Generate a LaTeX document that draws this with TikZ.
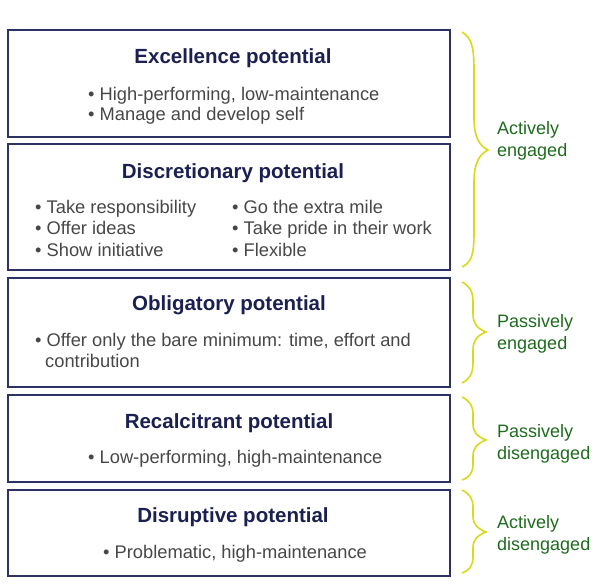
\documentclass[tikz,border=0pt]{standalone}
\usepackage{fontspec}
\setmainfont{Liberation Sans}
\begin{document}
\begin{tikzpicture}[x=1pt,y=-1pt,
  levelbox/.style={draw=boxnavy,line width=1.4pt},
  titletext/.style={font=\fontsize{20.5}{24}\selectfont\bfseries,text=titlenavy,anchor=base},
  bullettext/.style={font=\fontsize{18.3}{22}\selectfont,text=textgray,anchor=base west,inner sep=0pt},
  bracepath/.style={draw=braceyellow,line width=1.6pt},
  labeltext/.style={font=\fontsize{18}{22}\selectfont,text=labelgreen,anchor=west,align=left,inner sep=0pt}]
\definecolor{boxnavy}{HTML}{2E3262}
\definecolor{titlenavy}{HTML}{1B2050}
\definecolor{textgray}{HTML}{474747}
\definecolor{braceyellow}{HTML}{D9D91A}
\definecolor{labelgreen}{HTML}{1E6B1E}
\useasboundingbox (0,0) rectangle (600,586);
% boxes
\draw[levelbox] (8,30) rectangle (450,137);
\draw[levelbox] (8,144) rectangle (450,270);
\draw[levelbox] (8,278) rectangle (450,387);
\draw[levelbox] (8,395) rectangle (450,482);
\draw[levelbox] (8,490) rectangle (450,576);
% titles
\node[titletext] (t1) at (233,64) {Excellence potential};
\node[titletext] (t2) at (233,178) {Discretionary potential};
\node[titletext] (t3) at (229,310) {Obligatory potential};
\node[titletext] (t4) at (229,428) {Recalcitrant potential};
\node[titletext] (t5) at (233,522) {Disruptive potential};
% bullets
\node[bullettext] (b11) at (88,100) {• High-performing, low-maintenance};
\node[bullettext] (b12) at (88,121) {• Manage and develop self};
\node[bullettext] (b21) at (35,213) {• Take responsibility};
\node[bullettext] (b22) at (35,234) {• Offer ideas};
\node[bullettext] (b23) at (35,256) {• Show initiative};
\node[bullettext] (b24) at (232,213) {• Go the extra mile};
\node[bullettext] (b25) at (232,234) {• Take pride in their work};
\node[bullettext] (b26) at (232,256) {• Flexible};
\node[bullettext] (b31) at (35,346) {• Offer only the bare minimum: time, effort and};
\node[bullettext] (b32) at (45,367) {contribution};
\node[bullettext] (b41) at (88,463) {• Low-performing, high-maintenance};
\node[bullettext] (b51) at (103,558) {• Problematic, high-maintenance};
% braces
\draw[bracepath] (462,32) .. controls (472,38) and (474,48) .. (474,70) -- (474,118) .. controls (474,138) and (480,146) .. (488,150) .. controls (480,154) and (474,162) .. (474,182) -- (474,232) .. controls (474,254) and (472,262) .. (462,267);
\draw[bracepath] (462,282) .. controls (470,286) and (473,292) .. (473,302) -- (473,314) .. controls (473,324) and (478,329) .. (486,332) .. controls (478,335) and (473,340) .. (473,350) -- (473,363) .. controls (473,373) and (470,379) .. (462,383);
\draw[bracepath] (462,397) .. controls (470,401) and (473,406) .. (473,414) -- (473,424) .. controls (473,433) and (478,437) .. (486,440) .. controls (478,443) and (473,447) .. (473,456) -- (473,464) .. controls (473,472) and (470,477) .. (462,480);
\draw[bracepath] (462,490) .. controls (470,494) and (473,499) .. (473,507) -- (473,516) .. controls (473,525) and (478,529) .. (486,532) .. controls (478,535) and (473,539) .. (473,548) -- (473,557) .. controls (473,565) and (470,570) .. (462,573);
% labels
\node[labeltext] (l1) at (497,141) {Actively\\engaged};
\node[labeltext] (l2) at (497,334) {Passively\\engaged};
\node[labeltext] (l3) at (497,444) {Passively\\disengaged};
\node[labeltext] (l4) at (497,535) {Actively\\disengaged};
\end{tikzpicture}
\end{document}
